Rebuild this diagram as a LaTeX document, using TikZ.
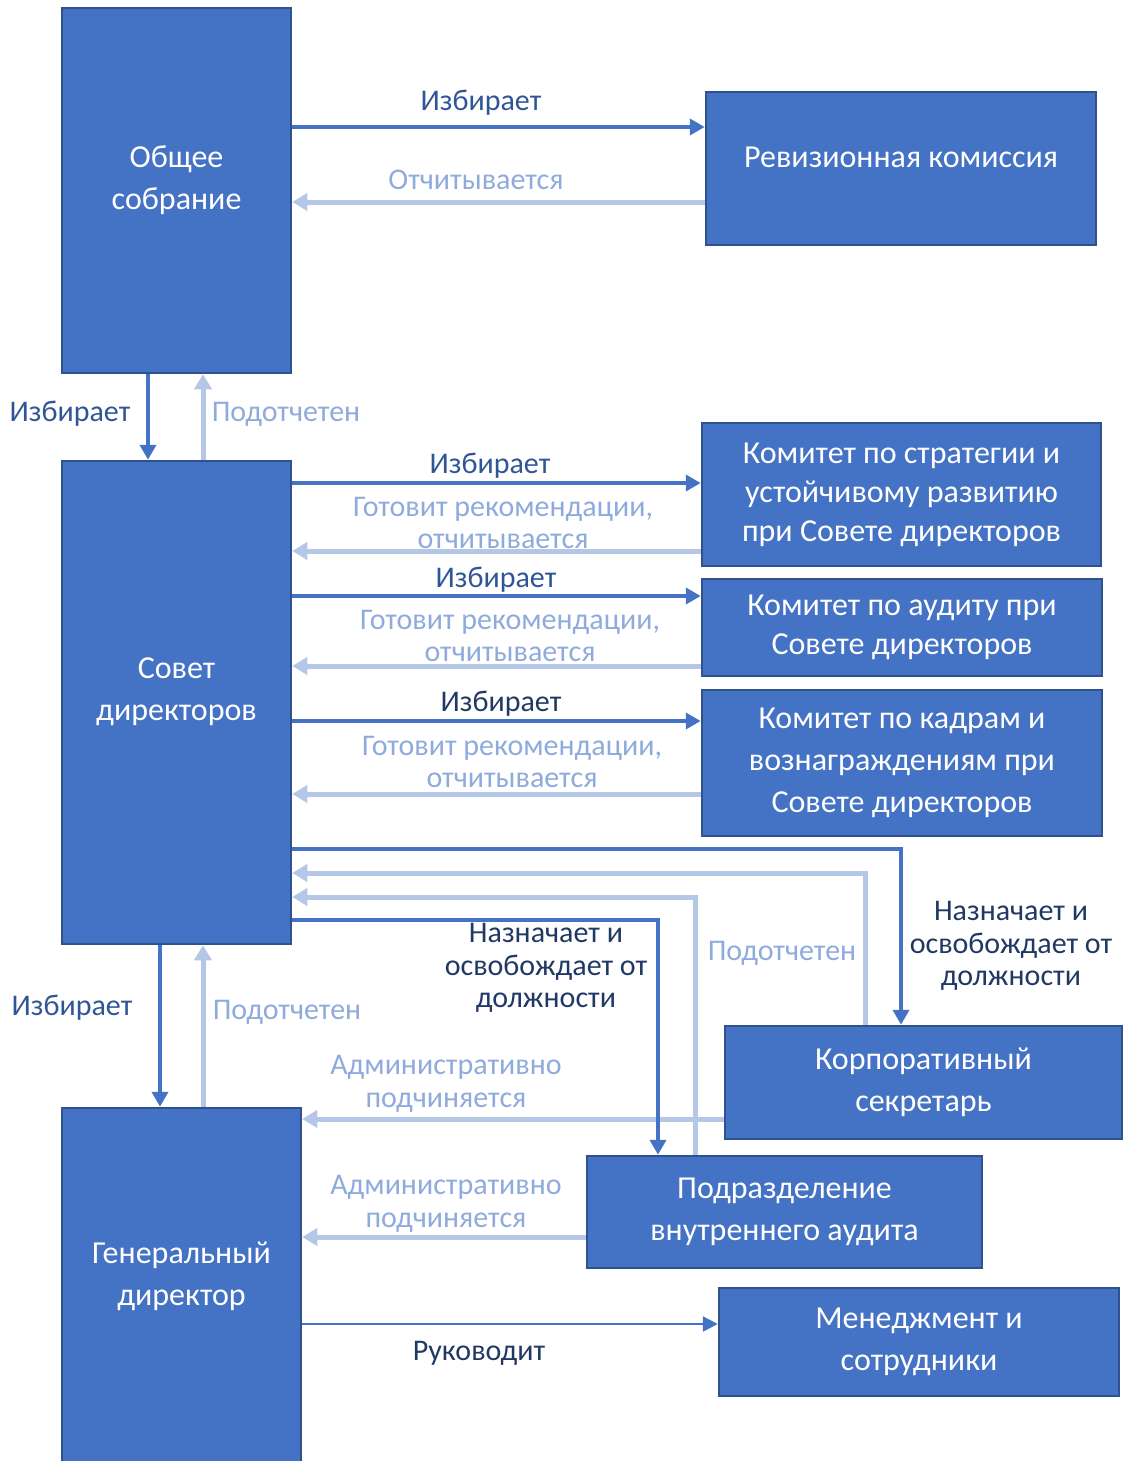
\documentclass[tikz,border=0pt]{standalone}
\usepackage{fontspec}
\setmainfont{Carlito}
\usetikzlibrary{arrows.meta}
\definecolor{boxfill}{HTML}{4472C4}
\definecolor{boxborder}{HTML}{2F528F}
\definecolor{darkarrow}{HTML}{4472C4}
\definecolor{lightarrow}{HTML}{B4C7E7}
\definecolor{labeldark}{HTML}{2F5597}
\definecolor{labelnavy}{HTML}{203864}
\definecolor{labellight}{HTML}{8FAADC}
\tikzset{
  box/.style={draw=boxborder, line width=2.5pt, fill=boxfill, text=white, align=center, inner sep=0pt,
    font=\fontsize{32}{42}\selectfont},
  tightbox/.style={box, font=\fontsize{32}{39}\selectfont},
  darr/.style={draw=darkarrow, line width=4pt, -{Triangle[length=15pt,width=16pt]}},
  thinarr/.style={draw=darkarrow, line width=2.5pt, -{Triangle[length=15pt,width=15pt]}},
  larr/.style={draw=lightarrow, line width=5pt, -{Triangle[length=15pt,width=17pt]}},
  dlbl/.style={text=labeldark, align=center, inner sep=0pt, font=\fontsize{30}{32.5}\selectfont},
  nlbl/.style={text=labelnavy, align=center, inner sep=0pt, font=\fontsize{30}{32.5}\selectfont},
  llbl/.style={text=labellight, align=center, inner sep=0pt, font=\fontsize{30}{32.5}\selectfont},
}
\begin{document}
\begin{tikzpicture}[x=1pt,y=-1pt]
\useasboundingbox (0,0) rectangle (1124,1461);
% boxes
\node[box, minimum width=229pt, minimum height=365pt, text depth=26pt] (os) at (176.5,190.5) {Общее\\собрание};
\node[box, minimum width=390pt, minimum height=153pt, text depth=22pt] (rk) at (901,168.5) {Ревизионная комиссия};
\node[box, minimum width=229pt, minimum height=483pt, text depth=26pt] (sd) at (176.5,702.5) {Совет\\директоров};
\node[tightbox, minimum width=399pt, minimum height=143pt] (ks) at (901.5,494.5) {Комитет по стратегии и\\устойчивому развитию\\при Совете директоров};
\node[tightbox, minimum width=400pt, minimum height=97pt] (ka) at (902,627.5) {Комитет по аудиту при\\Совете директоров};
\node[box, minimum width=400pt, minimum height=146pt] (kk) at (902,763) {Комитет по кадрам и\\вознаграждениям при\\Совете директоров};
\node[box, minimum width=397pt, minimum height=113pt] (cs) at (923.5,1082.5) {Корпоративный\\секретарь};
\node[box, minimum width=395pt, minimum height=112pt] (pa) at (784.5,1212) {Подразделение\\внутреннего аудита};
\node[box, minimum width=239pt, minimum height=367pt, text depth=36pt] (gd) at (181.5,1291.5) {Генеральный\\директор};
\node[box, minimum width=400pt, minimum height=108pt] (ms) at (919,1342) {Менеджмент и\\сотрудники};
% light connectors
\draw[larr] (rk.west |- 0,202) -- (os.east |- 0,202);
\draw[larr] (sd.north -| 203,0) -- (os.south -| 203,0);
\draw[larr] (ks.west |- 0,551) -- (sd.east |- 0,551);
\draw[larr] (ka.west |- 0,666) -- (sd.east |- 0,666);
\draw[larr] (kk.west |- 0,794) -- (sd.east |- 0,794);
\draw[larr] (cs.north -| 865,0) |- (sd.east |- 0,873);
\draw[larr] (pa.north -| 695,0) |- (sd.east |- 0,897);
\draw[larr] (gd.north -| 203,0) -- (sd.south -| 203,0);
\draw[larr] (cs.west |- 0,1119) -- (gd.east |- 0,1119);
\draw[larr] (pa.west |- 0,1237) -- (gd.east |- 0,1237);
% dark connectors
\draw[darr] (os.east |- 0,127) -- (rk.west |- 0,127);
\draw[darr] (os.south -| 148,0) -- (sd.north -| 148,0);
\draw[darr] (sd.east |- 0,483) -- (ks.west |- 0,483);
\draw[darr] (sd.east |- 0,596) -- (ka.west |- 0,596);
\draw[darr] (sd.east |- 0,721) -- (kk.west |- 0,721);
\draw[darr] (sd.east |- 0,849) -| (cs.north -| 901,0);
\draw[darr] (sd.east |- 0,920) -| (pa.north -| 658,0);
\draw[darr] (sd.south -| 160,0) -- (gd.north -| 160,0);
\draw[thinarr] (gd.east |- 0,1324) -- (ms.west |- 0,1324);
% labels
\node[dlbl] (l1) at (481,103) {Избирает};
\node[llbl] (l2) at (476,180) {Отчитывается};
\node[dlbl] (l3) at (70,414) {Избирает};
\node[llbl] (l4) at (286,414) {Подотчетен};
\node[dlbl] (l5) at (490,466) {Избирает};
\node[llbl] (l6) at (503,523) {Готовит рекомендации,\\отчитывается};
\node[dlbl] (l7) at (496,580) {Избирает};
\node[llbl] (l8) at (510,636) {Готовит рекомендации,\\отчитывается};
\node[nlbl] (l9) at (501,704) {Избирает};
\node[llbl] (l10) at (512,762) {Готовит рекомендации,\\отчитывается};
\node[nlbl] (l11) at (1011,946) {Назначает и\\освобождает от\\должности};
\node[llbl] (l12) at (782,953) {Подотчетен};
\node[nlbl] (l13) at (546,968) {Назначает и\\освобождает от\\должности};
\node[dlbl] (l14) at (72,1008) {Избирает};
\node[llbl] (l15) at (287,1012) {Подотчетен};
\node[llbl] (l16) at (446,1084) {Административно\\подчиняется};
\node[llbl] (l17) at (446,1204) {Административно\\подчиняется};
\node[nlbl] (l18) at (479,1353) {Руководит};
\end{tikzpicture}
\end{document}
